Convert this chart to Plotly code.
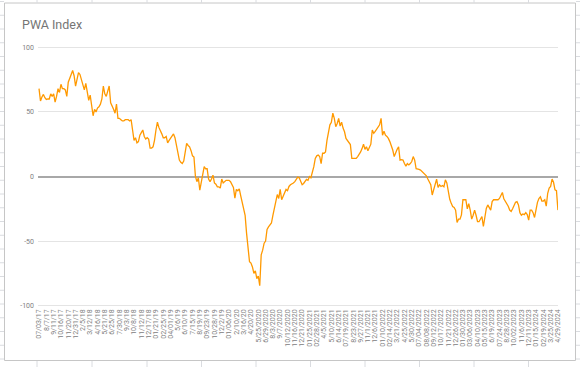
import plotly.graph_objects as go

# Weekly PWA Index values (07/03/2017 .. 4/29/2024)
pwa_index = [
    68, 58.5, 61.6, 63.5, 61, 59.6, 60, 60, 64, 62,
    64, 57.5, 62, 68, 65, 71.4, 68, 68, 67, 62,
    73, 77, 79, 82, 78, 70, 76, 80.4, 79, 75,
    72, 67, 72, 64, 59, 63, 54, 47, 52, 50,
    53, 54, 56, 60, 70, 64, 62, 66, 70, 57,
    55, 52, 49, 56, 45, 45, 44, 43, 43, 44,
    44, 44, 43, 44, 36, 28, 30, 26, 27, 32,
    34, 36, 31, 29, 30, 29, 22, 22, 23, 28,
    36, 42, 38, 36, 33, 30, 30, 31, 26, 28,
    30, 32, 33, 30, 24, 18, 12.7, 11, 10, 12,
    18, 25.6, 24, 23, 20, 16, 15, 0, -4, -1,
    -10.5, -4, 0, 7.6, 6, 6, -2, -4, -2, 1,
    -5, -6, -8, -8, -9, -2, -5, -4, -3, -3,
    -3, -4, -6, -8.5, -16.7, -10, -11, -9.5, -15, -21,
    -24, -30, -44, -57, -66, -67, -70, -75, -73, -79,
    -77, -84.5, -60.6, -57, -51.6, -50, -41, -39, -37.5, -36,
    -30, -24, -18, -14, -17, -10, -18, -15, -13, -10,
    -11, -7.7, -6.4, -6, -5, -4, -2, -0.5, -1, -4,
    -6.4, -5.4, -4, -2.3, -3, 0, -1, 3, 7.6, 14,
    16, 16.6, 15.5, 10, 18, 18, 19, 28, 36, 40,
    42, 49, 45, 38.5, 41, 45, 39, 42, 37.5, 34.6,
    29.5, 28, 27, 24.7, 14, 14, 14, 14, 15.4, 17,
    19, 21.6, 25, 21, 23, 20, 22, 25, 36, 33.5,
    35, 37, 38, 40, 45, 32, 35, 32, 31, 29.5,
    27, 24, 20.5, 15.4, 19, 21, 23, 12.7, 13, 12.7,
    10, 8, 10, 9, 10, 11.6, 15.4, 12.7, 6, 6,
    5.5, 5, 3.9, 2, 1, 0.5, -2, -4, -6.4, -14.3,
    -10, -5, -2, -8.5, -6.5, -7.7, -7, -8, -2.6, -5,
    -13, -17.6, -20.8, -23.3, -24, -26, -35.6, -33, -33, -29.7,
    -18, -18, -18, -25, -21, -26, -33, -30, -26, -30,
    -35, -35, -33, -31, -38.7, -31, -24.7, -22, -24, -26,
    -19.4, -18, -18, -18, -18, -17, -15, -12.4, -17.3, -19.3,
    -20.5, -23, -26, -27, -25, -22, -20, -19.5, -22, -28,
    -30, -29, -29.5, -28, -29.5, -33.8, -26, -26, -28, -31.7,
    -24.7, -20, -17, -15.7, -19, -19, -18, -23, -13, -9,
    -7.7, -2, -4.5, -10.3, -11, -26,
]

# Category labels shown on the x axis (every 5th week)
tick_labels = [
    "07/03/17", "8/7/17", "9/11/17", "10/16/17", "11/20/17", "12/31/17",
    "2/5/18", "3/12/18", "4/16/18", "5/21/18", "6/25/18", "7/30/18",
    "9/3/18", "10/8/18", "11/12/18", "12/17/18", "01/21/19", "02/25/19",
    "04/01/19", "5/6/19", "6/10/19", "7/15/19", "8/19/19", "09/23/19",
    "10/28/19", "12/2/19", "01/06/20", "2/10/20", "3/16/20", "4/20/20",
    "5/25/2020", "6/29/2020", "8/3/2020", "9/7/2020", "10/12/2020", "11/16/2020",
    "12/21/2020", "01/25/2021", "02/28/2021", "4/5/2021", "5/10/2021", "6/14/2021",
    "07/19/2021", "8/23/2021", "9/27/2021", "11/1/2021", "12/6/2021", "01/10/2022",
    "02/14/2022", "3/21/2022", "4/25/2022", "5/30/2022", "07/04/2022", "08/08/2022",
    "09/12/2022", "10/17/2022", "11/21/2022", "12/26/2022", "01/30/2023", "03/06/2023",
    "04/10/2023", "05/15/2023", "6/19/2023", "07/24/2023", "8/28/2023", "10/02/2023",
    "11/6/2023", "12/11/2023", "01/15/2024", "02/19/2024", "3/25/2024", "4/29/2024",
]
label_step = 5

y_ticks = [100, 50, 0, -50, -100]

week_index = list(range(len(pwa_index)))
tick_positions = [k * label_step for k in range(len(tick_labels))]

W, H = 580, 367
L, R, T, B = 38, 22, 46, 60
PW, PH = W - L - R, H - T - B


def px_x(p):
    return (p - L) / PW


def px_y(p):
    return 1 - (p - T) / PH


fig = go.Figure()
fig.add_trace(go.Scatter(
    x=week_index, y=pwa_index, mode="lines",
    line=dict(color="#ff9900", width=1.3),
    hoverinfo="skip", showlegend=False,
))

shapes = []
grid_col = "#dadce0"
# spreadsheet column lines visible around the chart box
for cx in [37, 92, 147, 201.5, 256, 310.5, 365, 419.5, 474, 528.5]:
    shapes.append(dict(type="line", xref="paper", yref="paper",
                       x0=px_x(cx), x1=px_x(cx), y0=px_y(0), y1=px_y(3),
                       line=dict(color=grid_col, width=1)))
    shapes.append(dict(type="line", xref="paper", yref="paper",
                       x0=px_x(cx), x1=px_x(cx), y0=px_y(361), y1=px_y(367),
                       line=dict(color=grid_col, width=1)))
# spreadsheet row lines visible left and right of the chart box
for k in range(27):
    ry = 1.5 + 13.75 * k
    shapes.append(dict(type="line", xref="paper", yref="paper",
                       x0=px_x(0), x1=px_x(4), y0=px_y(ry), y1=px_y(ry),
                       line=dict(color=grid_col, width=1)))
    shapes.append(dict(type="line", xref="paper", yref="paper",
                       x0=px_x(576), x1=px_x(580), y0=px_y(ry), y1=px_y(ry),
                       line=dict(color=grid_col, width=1)))
# chart box border
shapes.append(dict(type="rect", xref="paper", yref="paper",
                   x0=px_x(4.5), x1=px_x(575.5), y0=px_y(3), y1=px_y(360.5),
                   line=dict(color="#c6c6c6", width=1), fillcolor="rgba(0,0,0,0)",
                   layer="below"))

fig.update_layout(
    width=W, height=H,
    margin=dict(l=L, r=R, t=T, b=B),
    paper_bgcolor="white", plot_bgcolor="white",
    font=dict(family="Roboto, Arial, sans-serif", color="#757575"),
    title=dict(text="PWA Index", x=22 / W, xanchor="left", xref="container",
               y=1 - 25 / H, yanchor="middle", yref="container",
               font=dict(size=12.5, color="#757575", family="Roboto, Arial, sans-serif")),
    xaxis=dict(
        range=[-0.7, len(pwa_index) - 1 + 0.05],
        tickmode="array", tickvals=tick_positions, ticktext=tick_labels,
        tickangle=-90, tickfont=dict(size=7, color="#808080"),
        showgrid=False, zeroline=False, showline=False, ticks="",
        fixedrange=True,
    ),
    yaxis=dict(
        range=[-101, 101], tickmode="array", tickvals=y_ticks,
        ticktext=[str(v) for v in y_ticks],
        tickfont=dict(size=7, color="#808080"),
        showgrid=True, gridcolor="#e4e4e4", gridwidth=1,
        zeroline=True, zerolinecolor="#a8a8a8", zerolinewidth=1.5,
        showline=False, ticks="", ticklabelstandoff=3,
    ),
    shapes=shapes,
)

fig.write_html(
    "out.html",
    config={"displayModeBar": False},
    post_script="document.body.style.margin='0';document.body.style.overflow='hidden';",
)
